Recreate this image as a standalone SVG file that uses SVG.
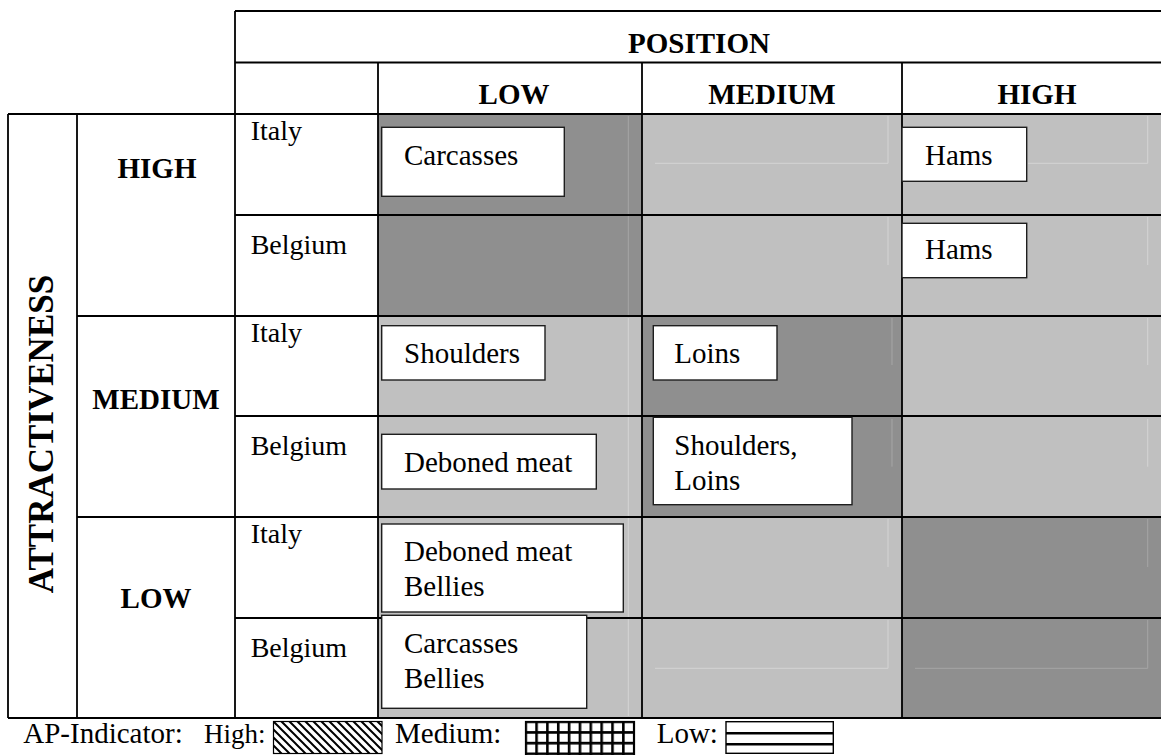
<svg xmlns="http://www.w3.org/2000/svg" width="1161" height="755" viewBox="0 0 1161 755">
  <defs>
    <style>
      text { font-family: "Liberation Serif", "Times New Roman", serif; fill: #000; }
      .hd { font-size: 29px; font-weight: bold; }
      .lb { font-size: 28px; }
      .bx { font-size: 29px; }
      .lg { font-size: 29px; }
      .dark { fill: #8f8f8f; }
      .light { fill: #c0c0c0; }
      .box { fill: #fff; stroke: #1e1e1e; stroke-width: 1.4; }
      .grid { stroke: #000; stroke-width: 1.8; fill: none; }
      .faintL { stroke: #d4d4d4; stroke-width: 1; fill: none; }
      .faintD { stroke: #a6a6a6; stroke-width: 1; fill: none; }
    </style>
    <pattern id="hatchHigh" patternUnits="userSpaceOnUse" width="8" height="8">
      <rect width="8" height="8" fill="#fff"/>
      <path d="M-2,-2 L10,10 M-2,6 L2,10 M6,-2 L10,2" stroke="#000" stroke-width="2"/>
    </pattern>
    <pattern id="gridMedium" patternUnits="userSpaceOnUse" x="524.4" y="720.4" width="10.85" height="10.7">
      <rect width="10.85" height="10.7" fill="#fff"/>
      <path d="M1.3,0 V10.7 M0,1.3 H10.85" stroke="#000" stroke-width="2.6"/>
    </pattern>
  </defs>

  <!-- cell shading -->
  <g id="cell-shading">
    <rect class="dark" x="378" y="114" width="264" height="202"/>
    <rect class="light" x="642" y="114" width="260" height="202"/>
    <rect class="light" x="902" y="114" width="259" height="202"/>
    <rect class="light" x="378" y="316" width="264" height="201"/>
    <rect class="dark" x="642" y="316" width="260" height="201"/>
    <rect class="light" x="902" y="316" width="259" height="201"/>
    <rect class="light" x="378" y="517" width="264" height="201"/>
    <rect class="light" x="642" y="517" width="260" height="201"/>
    <rect class="dark" x="902" y="517" width="259" height="201"/>
    <!-- faint inner edges -->
    <path class="faintD" d="M628.3,116 V315"/>
    <path class="faintL" d="M628.3,318 V716"/>
    <path class="faintL" d="M888,116 V163.3 H655 M888,217 V265 M888,519 V567 M888,620 V668.3 H655"/>
    <path class="faintD" d="M892,318 V365 M892,419 V466.7"/>
    <path class="faintL" d="M1147.7,116 V163.3 H1028 M1147.7,217 V265 M1147.7,318 V365 M1147.7,419 V466.7"/>
    <path class="faintD" d="M1147.7,519 V567 M1147.7,620 V668.3 H915"/>
  </g>

  <!-- table rules -->
  <g id="grid-lines" class="grid">
    <path d="M235,11 H1161 M235,62.5 H1161 M8,114 H1161"/>
    <path d="M235,215 H1161 M77,316 H1161 M235,416 H1161 M77,517 H1161 M235,618 H1161 M8,718 H1161"/>
    <path d="M235,11 V718 M378,62.5 V718 M642,62.5 V718 M902,62.5 V718 M8,114 V718 M77,114 V718"/>
  </g>

  <!-- headers -->
  <g id="header-position"><text class="hd" x="699" y="53" text-anchor="middle">POSITION</text></g>
  <g id="header-low"><text class="hd" x="514" y="104" text-anchor="middle">LOW</text></g>
  <g id="header-medium"><text class="hd" x="772" y="104" text-anchor="middle">MEDIUM</text></g>
  <g id="header-high"><text class="hd" x="1037" y="104" text-anchor="middle">HIGH</text></g>

  <g id="axis-attractiveness"><text class="hd" transform="translate(53,434) rotate(-90)" text-anchor="middle" style="font-size:35px">ATTRACTIVENESS</text></g>
  <g id="attr-high"><text class="hd" x="157" y="178" text-anchor="middle">HIGH</text></g>
  <g id="attr-medium"><text class="hd" x="156" y="409" text-anchor="middle">MEDIUM</text></g>
  <g id="attr-low"><text class="hd" x="156" y="608" text-anchor="middle">LOW</text></g>

  <!-- country rows -->
  <g id="row-labels">
    <text class="lb" x="250.7" y="140">Italy</text>
    <text class="lb" x="250.7" y="254">Belgium</text>
    <text class="lb" x="250.7" y="342">Italy</text>
    <text class="lb" x="250.7" y="455">Belgium</text>
    <text class="lb" x="250.7" y="543">Italy</text>
    <text class="lb" x="250.7" y="657">Belgium</text>
  </g>

  <!-- product boxes -->
  <g id="box-carcasses-it">
    <rect class="box" x="381.7" y="127.3" width="182.6" height="69"/>
    <text class="bx" x="404" y="165">Carcasses</text>
  </g>
  <g id="box-hams-it">
    <rect class="box" x="902" y="127.3" width="124.7" height="54"/>
    <text class="bx" x="925" y="165">Hams</text>
  </g>
  <g id="box-hams-be">
    <rect class="box" x="902" y="223.3" width="124.7" height="54.4"/>
    <text class="bx" x="925" y="259">Hams</text>
  </g>
  <g id="box-shoulders-it">
    <rect class="box" x="381.7" y="325.7" width="163.3" height="54.3"/>
    <text class="bx" x="404" y="363">Shoulders</text>
  </g>
  <g id="box-loins-it">
    <rect class="box" x="653.3" y="325.7" width="123.7" height="54.3"/>
    <text class="bx" x="674.3" y="363">Loins</text>
  </g>
  <g id="box-deboned-be">
    <rect class="box" x="381.7" y="434.3" width="214.6" height="54.7"/>
    <text class="bx" x="404" y="472">Deboned meat</text>
  </g>
  <g id="box-shoulders-loins-be">
    <rect class="box" x="653.3" y="417.3" width="198.7" height="87.4"/>
    <text class="bx" x="674.3" y="455">Shoulders,</text>
    <text class="bx" x="674.3" y="490">Loins</text>
  </g>
  <g id="box-deboned-bellies-it">
    <rect class="box" x="381.7" y="524" width="241.6" height="88"/>
    <text class="bx" x="404" y="560.7">Deboned meat</text>
    <text class="bx" x="404" y="595.7">Bellies</text>
  </g>
  <g id="box-carcasses-bellies-be">
    <rect class="box" x="381.7" y="615.3" width="205" height="93"/>
    <text class="bx" x="404" y="653.3">Carcasses</text>
    <text class="bx" x="404" y="688.3">Bellies</text>
  </g>

  <!-- legend -->
  <g id="legend">
    <text class="lg" x="23.3" y="743">AP-Indicator:</text>
    <text class="lg" x="204" y="743" style="font-size:27px">High:</text>
    <rect x="273.5" y="721.5" width="108.5" height="32" fill="url(#hatchHigh)" stroke="#000" stroke-width="1.2"/>
    <text class="lg" x="395" y="743">Medium:</text>
    <rect x="525.7" y="721.7" width="108.6" height="34" fill="url(#gridMedium)" stroke="#000" stroke-width="1.6"/>
    <text class="lg" x="656.7" y="743">Low:</text>
    <rect x="726" y="721.7" width="107.3" height="31.6" fill="#fff" stroke="#000" stroke-width="1.4"/>
    <path d="M726,733.3 H833.3 M726,744.3 H833.3" stroke="#000" stroke-width="2.6"/>
  </g>
</svg>
